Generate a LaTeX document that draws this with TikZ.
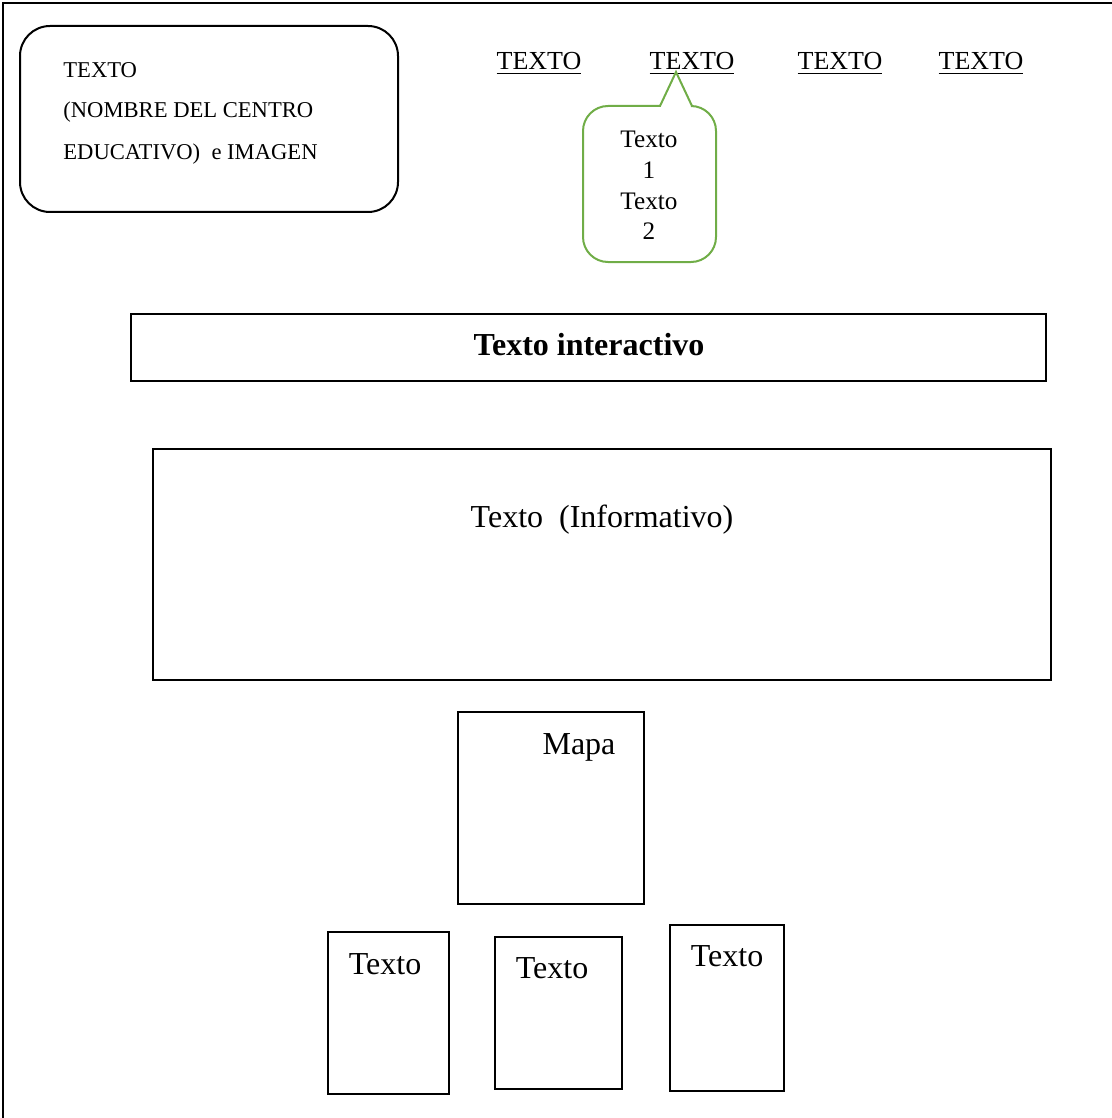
\documentclass[tikz,border=0pt]{standalone}
\usepackage{fontspec}
\setmainfont{Liberation Serif}
\usepackage{tikz}

\definecolor{vert}{RGB}{112,173,71}

\tikzset{
  cadre/.style={rectangle,draw,line width=0.6pt,inner sep=0pt},
  lien/.style={anchor=base,inner sep=0pt,font=\fontsize{13}{15}\selectfont},
  texte/.style={anchor=base,inner sep=0pt,font=\fontsize{16}{19}\selectfont}
}

\begin{document}
\begin{tikzpicture}[x=0.5pt,y=-0.5pt]
\useasboundingbox (0,0) rectangle (1112,1118);
% page
\draw[line width=1pt] (3,1118) -- (3,3) -- (1112,3);

% en-tete
\node[rectangle,rounded corners=15pt,draw,line width=1pt,inner sep=0pt,
minimum width=189pt,minimum height=93pt] (logo) at (209,119) {};
\node[anchor=base west,inner sep=0pt,font=\fontsize{11.3}{13}\selectfont] (logo1) at (63,78) {TEXTO};
\node[anchor=base west,inner sep=0pt,font=\fontsize{11.3}{13}\selectfont] (logo2) at (63,118) {(NOMBRE DEL CENTRO};
\node[anchor=base west,inner sep=0pt,font=\fontsize{11.3}{13}\selectfont] (logo3) at (63,160) {EDUCATIVO)\ \ e IMAGEN};

\node[lien] (menu1) at (539,70) {\underline{TEXTO}};
\node[lien] (menu2) at (692,70) {\underline{TEXTO}};
\node[lien] (menu3) at (840,70) {\underline{TEXTO}};
\node[lien] (menu4) at (981,70) {\underline{TEXTO}};

% bulle
\draw[vert,line width=1pt] (676,72) -- (692,106) [rounded corners=12.5pt]
  -- (716,106) -- (716,262) -- (583,262) -- (583,106) [sharp corners]
  -- (660,106) -- cycle;
\node[anchor=north,inner sep=0pt,align=center,font=\fontsize{12.6}{15.3}\selectfont]
  (bulle) at (649,131) {Texto\\1\\Texto\\2};

% corps
\node[cadre,minimum width=457.5pt,minimum height=33.5pt] (bandeau) at (588.5,347.5) {};
\node[texte,font=\fontsize{16}{19}\selectfont\bfseries] (interactif) at (589,355) {Texto interactivo};

\node[cadre,minimum width=449pt,minimum height=115.5pt] (info) at (602,564.5) {};
\node[texte] (infotxt) at (602,527) {Texto~~(Informativo)};

\node[cadre,minimum width=93pt,minimum height=96pt] (mapa) at (551,808) {};
\node[texte] (mapatxt) at (579,754) {Mapa};

\node[cadre,minimum width=60.5pt,minimum height=81pt] (bloc1) at (388.5,1013) {};
\node[texte] (bloc1txt) at (385,974) {Texto};
\node[cadre,minimum width=63.5pt,minimum height=76pt] (bloc2) at (558.5,1013) {};
\node[texte] (bloc2txt) at (552,978) {Texto};
\node[cadre,minimum width=57pt,minimum height=83pt] (bloc3) at (727,1008) {};
\node[texte] (bloc3txt) at (727,966) {Texto};
\end{tikzpicture}
\end{document}
